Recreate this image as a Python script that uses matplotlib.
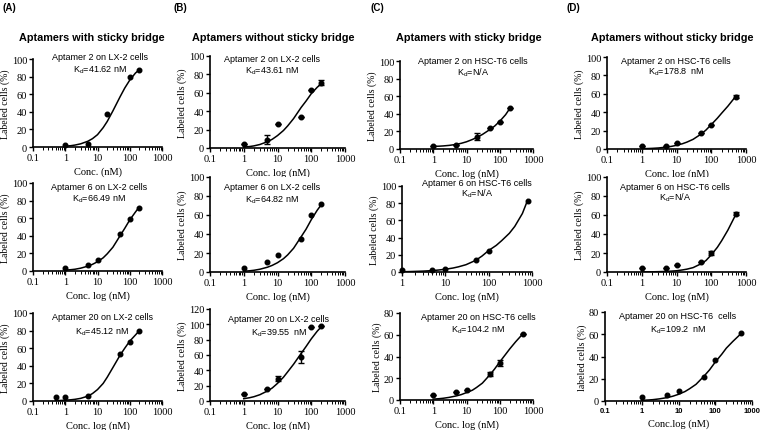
import numpy as np
import matplotlib
matplotlib.use('Agg')
import matplotlib.pyplot as plt
from matplotlib.ticker import LogLocator, NullFormatter, FixedLocator, FixedFormatter, MultipleLocator

#%% data (x = conc. nM, y = labeled cells %)
# fitted curves are read at these concentrations
fx_200 = [1, 1.5, 2, 3, 5, 7, 10, 15, 20, 30, 50, 70, 100, 150, 200]
fx_500 = [1, 1.5, 2, 3, 5, 7, 10, 15, 20, 30, 50, 70, 100, 150, 200, 300, 500]
fx_800 = [1, 1.5, 2, 3, 5, 7, 10, 15, 20, 30, 50, 70, 100, 150, 200, 300, 400, 600, 800]
fx_half = [0.5, 0.7, 1, 1.5, 2, 3, 5, 7, 10, 15, 20, 30, 50, 70, 100, 150, 200]

# column A : with sticky bridge, LX-2
conc_A1 = [1, 5, 20, 100, 200]
cells_A1 = [2, 3, 38, 79, 87]
fity_A1 = [1, 1.5, 2.2, 3.6, 6.5, 9.5, 14, 22, 29, 41, 57, 67, 76, 84, 88]

conc_A2 = [1, 5, 10, 50, 100, 200]
cells_A2 = [3, 7, 12, 42, 59, 72]
fity_A2 = [1, 1.5, 2, 3.2, 5.5, 7.6, 10.5, 15, 19.5, 27, 40, 48.5, 58, 67, 73]

conc_A3 = [0.5, 1, 5, 50, 100, 200]
cells_A3 = [4.6, 4.6, 5.3, 53, 67, 79]
fity_A3 = [0.4, 0.6, 0.9, 1.4, 1.9, 3, 5.5, 8.5, 13, 20, 27, 38, 52, 60, 68, 75, 80]

# column B : without sticky bridge, LX-2
conc_B1 = [1, 5, 10, 50, 100, 200]
cells_B1 = [4, 9, 26, 34, 63, 71]
err_B1 = [0, 5, 0, 0, 0, 3]
fity_B1 = [1, 1.6, 2.3, 3.8, 6.8, 9.5, 13.5, 19, 24, 32, 44, 51, 59, 66, 70]

conc_B2 = [1, 5, 10, 50, 100, 200]
cells_B2 = [4, 11, 18, 35, 60, 72]
fity_B2 = [0.8, 1.3, 1.8, 2.9, 5, 7, 9.8, 14, 18, 25, 37, 45, 55, 65, 71]

conc_B3 = [1, 5, 10, 50, 100, 200]
cells_B3 = [9, 16, 29, 57, 97, 98]
err_B3 = [0, 0, 3, 8, 0, 0]
fity_B3 = [3, 4.3, 5.6, 8.2, 13, 17, 23, 31, 38, 48, 62, 71, 81, 91, 97]

# column C : with sticky bridge, HSC-T6
conc_C1 = [1, 5, 20, 50, 100, 200]
cells_C1 = [3, 5, 14, 24, 31, 47]
err_C1 = [0, 0, 4, 0, 0, 0]
fity_C1 = [3, 3.2, 3.5, 4.1, 5.3, 6.5, 8.2, 10.8, 13, 16.5, 22, 26, 31.5, 39, 46]

conc_C2 = [1, 5, 10, 50, 100, 800]
cells_C2 = [2, 2, 3, 14, 25, 83]
fity_C2 = [0.3, 0.5, 0.7, 1, 1.6, 2.3, 3.2, 4.6, 6, 8.5, 13.5, 18.5, 25, 31, 36.5, 45, 53, 68, 84]

conc_C3 = [1, 5, 10, 50, 100, 500]
cells_C3 = [4.6, 7, 9, 24, 34, 61]
err_C3 = [0, 0, 0, 2, 3, 0]
fity_C3 = [0.8, 1.2, 1.6, 2.4, 3.8, 5, 6.8, 9, 11.5, 15.5, 23, 28.5, 35, 42, 47, 53.5, 61]

# column D : without sticky bridge, HSC-T6
conc_D1 = [1, 5, 10, 50, 100, 500]
cells_D1 = [3, 3, 6, 17, 26, 57]
err_D1 = [0, 0, 0, 0, 0, 2]
fity_D1 = [0.3, 0.5, 0.7, 1.1, 2, 2.8, 4, 5.8, 7.5, 10.5, 16, 20.5, 26.5, 33.5, 39, 46.5, 57]

conc_D2 = [1, 5, 10, 50, 100, 500]
cells_D2 = [4.5, 4, 7, 10.5, 20, 61.5]
err_D2 = [0, 0, 0, 0, 2, 2]
fity_D2 = [0.1, 0.15, 0.2, 0.35, 0.6, 0.9, 1.3, 2.2, 3, 4.6, 8.5, 12, 18, 26, 33, 44, 60]

conc_D3 = [1, 5, 10, 50, 100, 500]
cells_D3 = [3.6, 5, 8.7, 21.5, 36.5, 61.4]
fity_D3 = [0.6, 0.9, 1.2, 1.9, 3.1, 4.3, 6, 8.5, 11, 15, 22.5, 28, 35, 42, 47.5, 53.5, 60.5]

col_titles = ['Aptamers with sticky bridge', 'Aptamers without sticky bridge',
              'Aptamers with sticky bridge', 'Aptamers without sticky bridge']
panel_tags = ['(A)', '(B)', '(C)', '(D)']
x_ticks = [0.1, 1, 10, 100, 1000]
x_ticklabels = ['0.1', '1', '10', '100', '1000']

#%% figure in pixel units
W, H = 766, 431
fig = plt.figure(figsize=(W / 100, H / 100), dpi=100)
plt.rcParams['font.family'] = 'Liberation Serif'
plt.rcParams['mathtext.default'] = 'regular'
sans = 'Liberation Sans'


def box(l, r, top, bot):
    return fig.add_axes([l / W, 1 - bot / H, (r - l) / W, (bot - top) / H])


def ftext(x, y, s, **kw):
    fig.text(x / W, 1 - y / H, s, ha='center', va='center', **kw)


def panel(ax, conc, cells, fitx, fity, err=None, ymax=100, xmin=0.1,
          xlabel='Conc. log (nM)', ylabel='Labeled cells (%)', bold_ticks=False):
    ax.plot(fitx, fity, color='black', lw=1.1)
    if err is None:
        ax.plot(conc, cells, 'o', color='black', ms=3.3, clip_on=False)
    else:
        ax.errorbar(conc, cells, yerr=err, fmt='o', color='black', ms=3.3,
                    elinewidth=1, capsize=2, capthick=1, clip_on=False)
    ax.set_xscale('log')
    ax.set_xlim(xmin, 1000)
    ax.set_ylim(0, ymax)
    ax.spines['top'].set_visible(False)
    ax.spines['right'].set_visible(False)
    for s in ['left', 'bottom']:
        ax.spines[s].set_linewidth(1.2)
    ticks = [t for t in x_ticks if t >= xmin]
    labs = [l for t, l in zip(x_ticks, x_ticklabels) if t >= xmin]
    ax.xaxis.set_major_locator(FixedLocator(ticks))
    ax.xaxis.set_major_formatter(FixedFormatter(labs))
    ax.xaxis.set_minor_locator(LogLocator(base=10, subs=np.arange(2, 10)))
    ax.xaxis.set_minor_formatter(NullFormatter())
    ax.yaxis.set_major_locator(MultipleLocator(20))
    ax.tick_params(which='major', length=3, width=1, labelsize=7.5, pad=1.2)
    ax.tick_params(which='minor', length=1.8, width=0.7)
    if bold_ticks:
        for t in ax.get_xticklabels():
            t.set_family(sans)
            t.set_fontweight('bold')
            t.set_fontsize(5.5)
    ax.set_xlabel(xlabel, fontsize=7.5, labelpad=3)
    ax.set_ylabel(ylabel, fontsize=7, labelpad=1)


#%% column A
ax = box(33, 162, 60, 148)
panel(ax, conc_A1, cells_A1, fx_200, fity_A1, xlabel='Conc. (nM)')
ax = box(33, 162, 184, 272)
panel(ax, conc_A2, cells_A2, fx_200, fity_A2)
ax = box(33, 162, 314, 402)
panel(ax, conc_A3, cells_A3, fx_half, fity_A3)

#%% column B
ax = box(210, 345, 57, 149)
panel(ax, conc_B1, cells_B1, fx_200, fity_B1, err=err_B1)
ax = box(210, 345, 178, 273)
panel(ax, conc_B2, cells_B2, fx_200, fity_B2)
ax = box(210, 345, 310, 402)
panel(ax, conc_B3, cells_B3, fx_200, fity_B3, err=err_B3, ymax=120)

#%% column C
ax = box(400, 533, 62, 150)
panel(ax, conc_C1, cells_C1, fx_200, fity_C1, err=err_C1)
ax = box(402, 532, 187, 273)
panel(ax, conc_C2, cells_C2, fx_800, fity_C2, xmin=1)
ax = box(400, 533, 314, 401)
panel(ax, conc_C3, cells_C3, fx_500, fity_C3, err=err_C3, ymax=80)

#%% column D
ax = box(607, 746, 58, 150)
panel(ax, conc_D1, cells_D1, fx_500, fity_D1, err=err_D1)
ax = box(607, 746, 178, 273)
panel(ax, conc_D2, cells_D2, fx_500, fity_D2, err=err_D2)
ax = box(605, 752, 313, 402)
panel(ax, conc_D3, cells_D3, fx_500, fity_D3, ymax=80, xlabel='Conc.log (nM)',
      ylabel='labeled cells (%)', bold_ticks=True)

#%% titles, tags, annotations
for x, t in zip([92, 273, 469, 672], col_titles):
    ftext(x, 38, t, family=sans, fontweight='bold', fontsize=7.8)
for x, t in zip([9, 180, 377, 573], panel_tags):
    ftext(x, 8, t, family=sans, fontweight='bold', fontsize=7)

notes = [
    (100, 58, 70, 'Aptamer 2 on LX-2 cells', '41.62 nM'),
    (272, 59, 71, 'Aptamer 2 on LX-2 cells', '43.61 nM'),
    (473, 62, 73, 'Aptamer 2 on HSC-T6 cells', 'N/A'),
    (676, 61, 72, 'Aptamer 2 on HSC-T6 cells', '178.8  nM'),
    (99, 188, 199, 'Aptamer 6 on LX-2 cells', '66.49 nM'),
    (272, 188, 200, 'Aptamer 6 on LX-2 cells', '64.82 nM'),
    (477, 184, 194, 'Aptamer 6 on HSC-T6 cells', 'N/A'),
    (675, 188, 198, 'Aptamer 6 on HSC-T6 cells', 'N/A'),
    (102, 318, 332, 'Aptamer 20 on LX-2 cells', '45.12 nM'),
    (279, 320, 333, 'Aptamer 20 on LX-2 cells', '39.55  nM'),
    (478, 318, 330, 'Aptamer 20 on HSC-T6 cells', '104.2 nM'),
    (678, 317, 330, 'Aptamer 20 on HSC-T6  cells', '109.2  nM'),
]
for x, y1, y2, l1, kd in notes:
    ftext(x, y1, l1, family=sans, fontsize=6.5)
    ftext(x, y2, r'K$_d$=' + kd, family=sans, fontsize=6.5)

fig.savefig('out.png', dpi=100)
